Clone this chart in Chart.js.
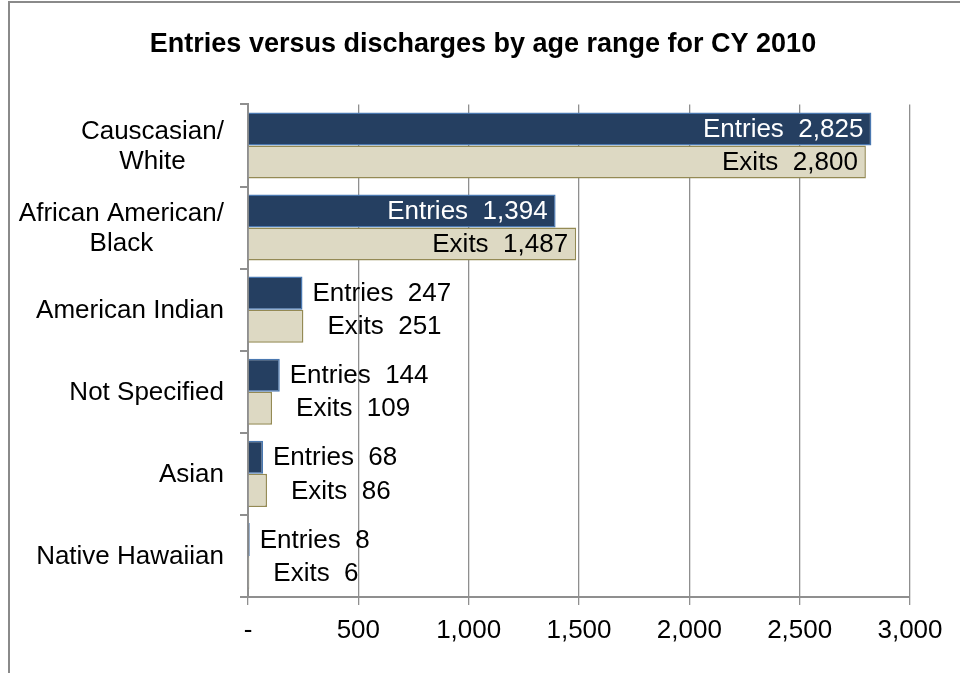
<!DOCTYPE html>
<html>
<head>
<meta charset="utf-8">
<script src="https://cdn.jsdelivr.net/npm/chart.js@4/dist/chart.umd.min.js"></script>
<style>
  body { margin: 0; background: #fff; }
  #wrap { width: 960px; height: 673px; position: relative; }
</style>
</head>
<body>
<div id="wrap"><canvas id="chartCanvas"></canvas></div>
<script>
// chart data
var categories = [["Causcasian/", "White"], ["African American/", "Black"], "American Indian", "Not Specified", "Asian", "Native Hawaiian"];
var entries = [2825, 1394, 247, 144, 68, 8];
var exits = [2800, 1487, 251, 109, 86, 6];
var xTicks = [0, 500, 1000, 1500, 2000, 2500, 3000];

var fontFamily = "'Liberation Sans', Arial, sans-serif";
var labelFont = "26px " + fontFamily;

// outer frame like the spreadsheet chart border
var framePlugin = {
  id: "frame",
  beforeDraw: function (chart) {
    var c = chart.ctx;
    c.save();
    c.strokeStyle = "#8a8a8a";
    c.lineWidth = 2;
    c.strokeRect(9, 2, 980, 700);
    c.restore();
  }
};

// y category labels: multi-line labels centered on each other, block right-aligned
var yLabelPlugin = {
  id: "yLabels",
  afterDraw: function (chart) {
    var c = chart.ctx;
    var ys = chart.scales.y;
    var right = ys.right - 24;
    c.save();
    c.font = labelFont;
    c.fillStyle = "#000";
    c.textBaseline = "middle";
    c.textAlign = "center";
    for (var i = 0; i < categories.length; i++) {
      var lines = [].concat(categories[i]);
      var maxW = 0;
      lines.forEach(function (l) { maxW = Math.max(maxW, c.measureText(l).width); });
      var cx = right - maxW / 2;
      var y0 = ys.getPixelForTick(i) - (lines.length - 1) * 15 + 1;
      for (var j = 0; j < lines.length; j++) {
        c.fillText(lines[j], cx, y0 + j * 30);
      }
    }
    c.restore();
  }
};

// bar value labels
var barLabelPlugin = {
  id: "barLabels",
  afterDatasetsDraw: function (chart) {
    var c = chart.ctx;
    c.save();
    c.font = labelFont;
    c.textBaseline = "middle";
    chart.data.datasets.forEach(function (ds, di) {
      var meta = chart.getDatasetMeta(di);
      meta.data.forEach(function (bar, i) {
        var v = ds.data[i];
        var txt = ds.label + "  " + v.toLocaleString("en-US");
        if (v > 1000) {
          c.textAlign = "right";
          c.fillStyle = di === 0 ? "#ffffff" : "#000000";
          c.fillText(txt, bar.x - 8, bar.y + 1);
        } else {
          c.textAlign = "left";
          c.fillStyle = "#000000";
          c.fillText(txt, bar.x + (di === 0 ? 10 : 24), bar.y + 1);
        }
      });
    });
    c.restore();
  }
};

var ctx = document.getElementById("chartCanvas").getContext("2d");
var newChart = new Chart(ctx, {
  type: "bar",
  data: {
    labels: categories,
    datasets: [
      {
        label: "Entries",
        data: entries,
        backgroundColor: "#253f61",
        borderColor: "#4a78b0",
        borderWidth: 1.5,
        borderSkipped: "start",
        categoryPercentage: 0.805,
        barPercentage: 1.0
      },
      {
        label: "Exits",
        data: exits,
        backgroundColor: "#ddd9c3",
        borderColor: "#948a54",
        borderWidth: 1.5,
        borderSkipped: "start",
        categoryPercentage: 0.805,
        barPercentage: 1.0
      }
    ]
  },
  options: {
    indexAxis: "y",
    responsive: true,
    maintainAspectRatio: false,
    animation: false,
    layout: { padding: { top: 28, left: 56, right: 50, bottom: 0 } },
    plugins: {
      legend: { display: false },
      tooltip: { enabled: false },
      title: {
        display: true,
        text: "Entries versus discharges by age range for CY 2010",
        color: "#000",
        font: { family: fontFamily, size: 27, weight: "bold" },
        padding: { top: 0, bottom: 44 }
      }
    },
    scales: {
      x: {
        min: 0,
        max: 3000,
        afterBuildTicks: function (scale) {
          scale.ticks = xTicks.map(function (v) { return { value: v }; });
        },
        afterFit: function (scale) { scale.height = 673 - 597; },
        ticks: {
          color: "#000",
          font: { family: fontFamily, size: 26 },
          padding: 10,
          maxRotation: 0,
          callback: function (v) { return v === 0 ? "-" : Number(v).toLocaleString("en-US"); }
        },
        grid: { color: "#8f8f8f", lineWidth: 1.3, tickLength: 8, drawTicks: true },
        border: { color: "#8f8f8f", width: 2 }
      },
      y: {
        afterFit: function (scale) { scale.width = 248 - 56; },
        ticks: {
          color: "rgba(0,0,0,0)",
          font: { family: fontFamily, size: 12 }
        },
        grid: { offset: true, drawOnChartArea: false, drawTicks: true, tickLength: 8, color: "#8f8f8f", lineWidth: 2 },
        border: { color: "#8f8f8f", width: 2 }
      }
    }
  },
  plugins: [framePlugin, yLabelPlugin, barLabelPlugin]
});
</script>
</body>
</html>
